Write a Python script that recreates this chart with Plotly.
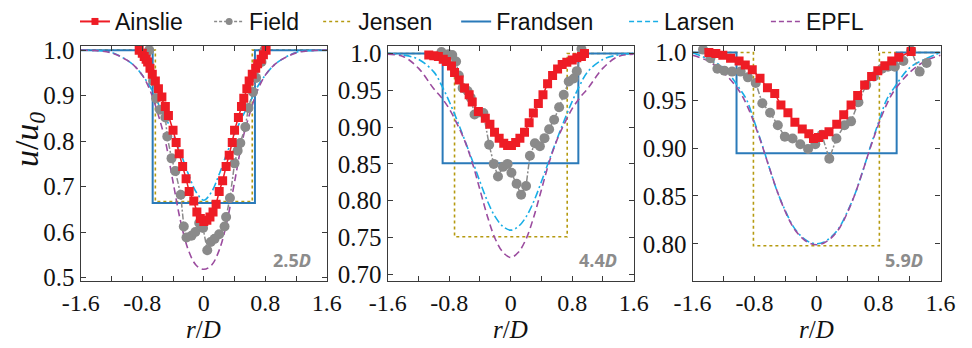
import plotly.graph_objects as go

W, H = 972, 348

# ---------------- data: panel 1 (2.5D) ----------------
ains1_x = [-0.84, -0.80, -0.775, -0.75, -0.73, -0.70, -0.67, -0.63, -0.59, -0.545, -0.50, -0.46, -0.40, -0.36,
           -0.32, -0.275, -0.23, -0.19, -0.13, -0.09, -0.045, 0.0, 0.04, 0.08, 0.12, 0.16, 0.20, 0.245, 0.29,
           0.33, 0.37, 0.40, 0.45, 0.49, 0.52, 0.56, 0.59, 0.63, 0.675, 0.70, 0.745, 0.775, 0.81]
ains1_y = [1.0, 0.993, 0.986, 0.98, 0.974, 0.96, 0.947, 0.932, 0.915, 0.897, 0.876, 0.856, 0.824, 0.797,
           0.772, 0.744, 0.717, 0.689, 0.668, 0.644, 0.63, 0.623, 0.626, 0.633, 0.644, 0.661, 0.689, 0.713, 0.744,
           0.769, 0.797, 0.824, 0.852, 0.876, 0.894, 0.915, 0.932, 0.947, 0.96, 0.97, 0.98, 0.99, 1.0]
field1_x = [-0.71, -0.66, -0.62, -0.57, -0.50, -0.475, -0.42, -0.37, -0.30, -0.26, -0.225, -0.16, -0.11, -0.06,
            -0.01, 0.045, 0.09, 0.14, 0.20, 0.27, 0.29, 0.34, 0.40, 0.44, 0.475, 0.54, 0.58, 0.64, 0.68, 0.75, 0.79]
field1_y = [1.0, 0.932, 0.894, 0.869, 0.852, 0.81, 0.762, 0.734, 0.682, 0.612, 0.588, 0.592, 0.60, 0.62,
            0.609, 0.56, 0.578, 0.585, 0.595, 0.612, 0.633, 0.675, 0.751, 0.779, 0.796, 0.831, 0.873, 0.908, 0.939,
            0.974, 1.0]
jensen1_x = [-1.6, -0.63, -0.63, 0.63, 0.63, 1.6]
jensen1_y = [1.0, 1.0, 0.667, 0.667, 1.0, 1.0]
frandsen1_x = [-1.6, -0.665, -0.665, 0.665, 0.665, 1.6]
frandsen1_y = [1.0, 1.0, 0.664, 0.664, 1.0, 1.0]
model_x = [-1.6, -1.4, -1.2, -1.0, -0.9, -0.8, -0.7, -0.6, -0.5, -0.4, -0.3, -0.2, -0.1, 0.0,
           0.1, 0.2, 0.3, 0.4, 0.5, 0.6, 0.7, 0.8, 0.9, 1.0, 1.2, 1.4, 1.6]
larsen1_y = [1.0, 0.999, 0.995, 0.978, 0.965, 0.945, 0.92, 0.885, 0.853, 0.815, 0.773, 0.727, 0.688, 0.67,
             0.688, 0.727, 0.773, 0.815, 0.853, 0.885, 0.92, 0.945, 0.965, 0.978, 0.995, 0.999, 1.0]
epfl1_y = [1.0, 0.999, 0.994, 0.978, 0.965, 0.945, 0.912, 0.862, 0.80, 0.71, 0.622, 0.56, 0.527, 0.518,
           0.527, 0.56, 0.622, 0.71, 0.80, 0.862, 0.912, 0.945, 0.965, 0.978, 0.994, 0.999, 1.0]

# ---------------- data: panel 2 (4.4D) ----------------
ains2_x = [-1.065, -1.0, -0.94, -0.877, -0.835, -0.77, -0.73, -0.67, -0.60, -0.54, -0.50, -0.42, -0.33, -0.27,
           -0.21, -0.15, -0.09, -0.04, 0.01, 0.065, 0.12, 0.18, 0.24, 0.295, 0.36, 0.42, 0.48, 0.545, 0.61, 0.67,
           0.73, 0.80, 0.86, 0.92, 0.96]
ains2_y = [0.998, 0.997, 0.996, 0.992, 0.989, 0.983, 0.974, 0.964, 0.953, 0.944, 0.934, 0.921, 0.912, 0.904,
           0.893, 0.885, 0.878, 0.875, 0.875, 0.879, 0.885, 0.893, 0.906, 0.919, 0.932, 0.944, 0.959, 0.97, 0.979,
           0.985, 0.988, 0.991, 0.994, 0.996, 1.0]
field2_x = [-0.90, -0.81, -0.76, -0.71, -0.675, -0.625, -0.56, -0.52, -0.47, -0.41, -0.355, -0.28, -0.22, -0.165,
            -0.10, -0.04, 0.01, 0.077, 0.136, 0.20, 0.25, 0.315, 0.38, 0.44, 0.50, 0.565, 0.63, 0.69, 0.755, 0.82,
            0.86, 0.92]
field2_y = [1.002, 0.999, 0.998, 0.989, 0.97, 0.953, 0.949, 0.94, 0.917, 0.92, 0.919, 0.876, 0.85, 0.833,
            0.846, 0.85, 0.838, 0.823, 0.808, 0.82, 0.861, 0.878, 0.874, 0.885, 0.897, 0.91, 0.927, 0.944, 0.962,
            0.966, 0.976, 1.006]
jensen2_x = [-1.6, -0.73, -0.73, 0.735, 0.735, 1.6]
jensen2_y = [1.0, 1.0, 0.751, 0.751, 1.0, 1.0]
frandsen2_x = [-1.6, -0.885, -0.885, 0.88, 0.88, 1.6]
frandsen2_y = [1.0, 1.0, 0.851, 0.851, 1.0, 1.0]
larsen2_y = [1.0, 0.998, 0.992, 0.975, 0.957, 0.935, 0.91, 0.883, 0.855, 0.826, 0.799, 0.778, 0.765, 0.76,
             0.765, 0.778, 0.799, 0.826, 0.855, 0.883, 0.91, 0.935, 0.957, 0.975, 0.992, 0.998, 1.0]
epfl2_y = [0.999, 0.996, 0.98, 0.952, 0.94, 0.925, 0.905, 0.882, 0.852, 0.815, 0.778, 0.748, 0.73, 0.723,
           0.73, 0.748, 0.778, 0.815, 0.852, 0.882, 0.905, 0.925, 0.94, 0.952, 0.98, 0.996, 0.999]

# ---------------- data: panel 3 (5.9D) ----------------
ains3_x = [-1.39, -1.30, -1.21, -1.11, -1.0, -0.92, -0.83, -0.73, -0.634, -0.54, -0.46, -0.37, -0.28, -0.185,
           -0.10, -0.04, 0.025, 0.09, 0.16, 0.26, 0.35, 0.445, 0.53, 0.62, 0.71, 0.79, 0.88, 0.97, 1.06, 1.22]
ains3_y = [1.0, 0.999, 0.997, 0.994, 0.991, 0.987, 0.982, 0.973, 0.963, 0.957, 0.945, 0.937, 0.927, 0.92,
           0.915, 0.91, 0.911, 0.914, 0.917, 0.925, 0.935, 0.945, 0.955, 0.966, 0.975, 0.981, 0.986, 0.991, 0.995,
           1.001]
field3_x = [-1.465, -1.37, -1.28, -1.19, -1.09, -0.98, -0.886, -0.785, -0.70, -0.60, -0.50, -0.41, -0.31, -0.21,
            -0.11, -0.017, 0.067, 0.164, 0.256, 0.36, 0.445, 0.54, 0.64, 0.74, 0.844, 0.92, 1.01, 1.12, 1.22, 1.33,
            1.42]
field3_y = [1.003, 0.994, 0.983, 0.981, 0.98, 0.98, 0.974, 0.968, 0.947, 0.937, 0.924, 0.912, 0.91, 0.904,
            0.899, 0.904, 0.914, 0.889, 0.91, 0.924, 0.928, 0.948, 0.966, 0.975, 0.983, 0.985, 0.985, 0.991, 1.002,
            0.98, 0.989]
jensen3_x = [-1.6, -0.815, -0.815, 0.81, 0.81, 1.6]
jensen3_y = [1.0, 1.0, 0.798, 0.798, 1.0, 1.0]
frandsen3_x = [-1.6, -1.033, -1.033, 1.033, 1.033, 1.6]
frandsen3_y = [1.0, 1.0, 0.8946, 0.8946, 1.0, 1.0]
larsen3_y = [1.0, 0.993, 0.984, 0.963, 0.95, 0.927, 0.903, 0.877, 0.853, 0.834, 0.818, 0.808, 0.802, 0.80,
             0.802, 0.808, 0.818, 0.834, 0.853, 0.877, 0.903, 0.927, 0.95, 0.963, 0.984, 0.993, 1.0]
epfl3_y = [0.997, 0.991, 0.979, 0.96, 0.945, 0.925, 0.902, 0.877, 0.853, 0.833, 0.817, 0.807, 0.801, 0.799,
           0.801, 0.807, 0.817, 0.833, 0.853, 0.877, 0.902, 0.925, 0.945, 0.96, 0.979, 0.991, 0.997]

panel_labels = ["2.5<i>D</i>", "4.4<i>D</i>", "5.9<i>D</i>"]
x_tickvals = [-1.6, -0.8, 0.0, 0.8, 1.6]
x_ticktext = ["-1.6", "-0.8", "0", "0.8", "1.6"]
y_tickvals = [[0.5, 0.6, 0.7, 0.8, 0.9, 1.0],
              [0.70, 0.75, 0.80, 0.85, 0.90, 0.95, 1.0],
              [0.80, 0.85, 0.90, 0.95, 1.0]]
y_ticktext = [["0.5", "0.6", "0.7", "0.8", "0.9", "1.0"],
              ["0.70", "0.75", "0.80", "0.85", "0.90", "0.95", "1.0"],
              ["0.80", "0.85", "0.90", "0.95", "1.0"]]
series_names = ["Ainslie", "Field", "Jensen", "Frandsen", "Larsen", "EPFL"]

# ---------------- styling ----------------
RED = "#ee1c25"
GRAY = "#8a8a8a"
OLIVE = "#b59a10"
BLUE = "#2a7ab9"
CYAN = "#19aee6"
PURPLE = "#9b4c9f"
FRAME = "#3a3a3a"
SERIF = "Liberation Serif, Times New Roman, Times, serif"
SANS = "Liberation Sans, Arial, sans-serif"

panels = [
    dict(ax=(ains1_x, ains1_y), fd=(field1_x, field1_y), je=(jensen1_x, jensen1_y),
         fr=(frandsen1_x, frandsen1_y), la=larsen1_y, ep=epfl1_y),
    dict(ax=(ains2_x, ains2_y), fd=(field2_x, field2_y), je=(jensen2_x, jensen2_y),
         fr=(frandsen2_x, frandsen2_y), la=larsen2_y, ep=epfl2_y),
    dict(ax=(ains3_x, ains3_y), fd=(field3_x, field3_y), je=(jensen3_x, jensen3_y),
         fr=(frandsen3_x, frandsen3_y), la=larsen3_y, ep=epfl3_y),
]
dom_px = [(64, 319), (382, 637), (698, 955)]
yranges = [(0.4917, 1.0094), (0.6906, 1.0103), (0.7608, 1.0069)]
top_px, bot_px = 39, 288

fig = go.Figure()

for i, p in enumerate(panels):
    sfx = "" if i == 0 else str(i + 1)
    xa, ya = "x" + sfx, "y" + sfx
    common = dict(xaxis=xa, yaxis=ya, showlegend=False, hoverinfo="skip")
    fig.add_trace(go.Scatter(x=p["je"][0], y=p["je"][1], mode="lines",
                             line=dict(color=OLIVE, width=1.6, dash="dot"), **common))
    fig.add_trace(go.Scatter(x=p["fr"][0], y=p["fr"][1], mode="lines",
                             line=dict(color=BLUE, width=2), **common))
    fig.add_trace(go.Scatter(x=model_x, y=p["la"], mode="lines", line_shape="spline",
                             line=dict(color=CYAN, width=1.6, dash="8px,3px,2px,3px"), **common))
    fig.add_trace(go.Scatter(x=model_x, y=p["ep"], mode="lines", line_shape="spline",
                             line=dict(color=PURPLE, width=1.6, dash="7px,4px"), **common))
    fig.add_trace(go.Scatter(x=p["fd"][0], y=p["fd"][1], mode="lines+markers",
                             line=dict(color=GRAY, width=1.5, dash="6px,2px,2px,2px"),
                             marker=dict(symbol="circle", size=10, color=GRAY), **common))
    fig.add_trace(go.Scatter(x=p["ax"][0], y=p["ax"][1], mode="lines+markers",
                             line=dict(color=RED, width=1.5),
                             marker=dict(symbol="square", size=9, color=RED), **common))

    dom = [dom_px[i][0] / W, dom_px[i][1] / W]
    axis_common = dict(showline=True, linecolor=FRAME, linewidth=1.3, mirror="ticks",
                       ticks="inside", ticklen=5, tickwidth=1, tickcolor=FRAME,
                       showgrid=False, zeroline=False,
                       tickfont=dict(family=SERIF, size=24, color="#111"))
    fig.layout["xaxis" + sfx] = dict(domain=dom, range=[-1.6, 1.6], anchor=ya,
                                     tickvals=x_tickvals, ticktext=x_ticktext,
                                     minor=dict(dtick=0.4, tick0=-1.6, ticks="inside", ticklen=5,
                                                tickwidth=1, tickcolor=FRAME, showgrid=False),
                                     **axis_common)
    fig.layout["yaxis" + sfx] = dict(domain=[1 - bot_px / H, 1 - top_px / H], range=list(yranges[i]),
                                     anchor=xa, tickvals=y_tickvals[i], ticktext=y_ticktext[i],
                                     tickfont=dict(family=SERIF, size=25, color="#111"),
                                     **{k: v for k, v in axis_common.items() if k != "tickfont"})

    cx = (dom_px[i][0] + dom_px[i][1]) / 2
    fig.add_annotation(x=cx / W, y=1 - 339 / H, xref="paper", yref="paper",
                       text="<i>r</i>/<i>D</i>", showarrow=False,
                       font=dict(family=SERIF, size=25, color="#111"), xanchor="center", yanchor="middle")
    lx = [283, 600, 917][i]
    fig.add_annotation(x=lx / W, y=1 - 265 / H, xref="paper", yref="paper",
                       text="<b>" + panel_labels[i] + "</b>", showarrow=False,
                       font=dict(family="Open Sans", size=18, color="#8c8c8c"),
                       xanchor="center", yanchor="middle")

fig.add_annotation(x=11 / W, y=1 - 138 / H, xref="paper", yref="paper",
                   text="<i>u</i>/<i>u</i><sub><i>0</i></sub>", showarrow=False, textangle=-90,
                   font=dict(family=SERIF, size=34, color="#111"), xanchor="center", yanchor="middle")

# legend entries (one legend per entry for exact placement)
leg_styles = [
    dict(mode="lines+markers", line=dict(color=RED, width=2), marker=dict(symbol="square", size=7, color=RED)),
    dict(mode="lines+markers", line=dict(color=GRAY, width=1.5, dash="3px,2px"),
         marker=dict(symbol="circle", size=7, color=GRAY)),
    dict(mode="lines", line=dict(color=OLIVE, width=1.6, dash="dot")),
    dict(mode="lines", line=dict(color=BLUE, width=2)),
    dict(mode="lines", line=dict(color=CYAN, width=1.6, dash="5px,3px")),
    dict(mode="lines", line=dict(color=PURPLE, width=1.6, dash="5px,3px")),
]
leg_x_px = [68, 207, 320, 463, 637, 784]
for k, name in enumerate(series_names):
    lname = "legend" if k == 0 else "legend" + str(k + 1)
    fig.add_trace(go.Scatter(x=[None], y=[None], name=name, showlegend=True, legend=lname,
                             hoverinfo="skip", **leg_styles[k]))
    fig.layout[lname] = dict(x=(leg_x_px[k] - 10) / W, y=1 - 13 / H, xanchor="left", yanchor="middle",
                             orientation="h", bgcolor="rgba(0,0,0,0)", borderwidth=0, itemwidth=30,
                             font=dict(family=SANS, size=23, color="#111"))

fig.update_layout(width=W, height=H, margin=dict(l=0, r=0, t=0, b=0),
                  paper_bgcolor="white", plot_bgcolor="white")

fig.write_html("out.html")
